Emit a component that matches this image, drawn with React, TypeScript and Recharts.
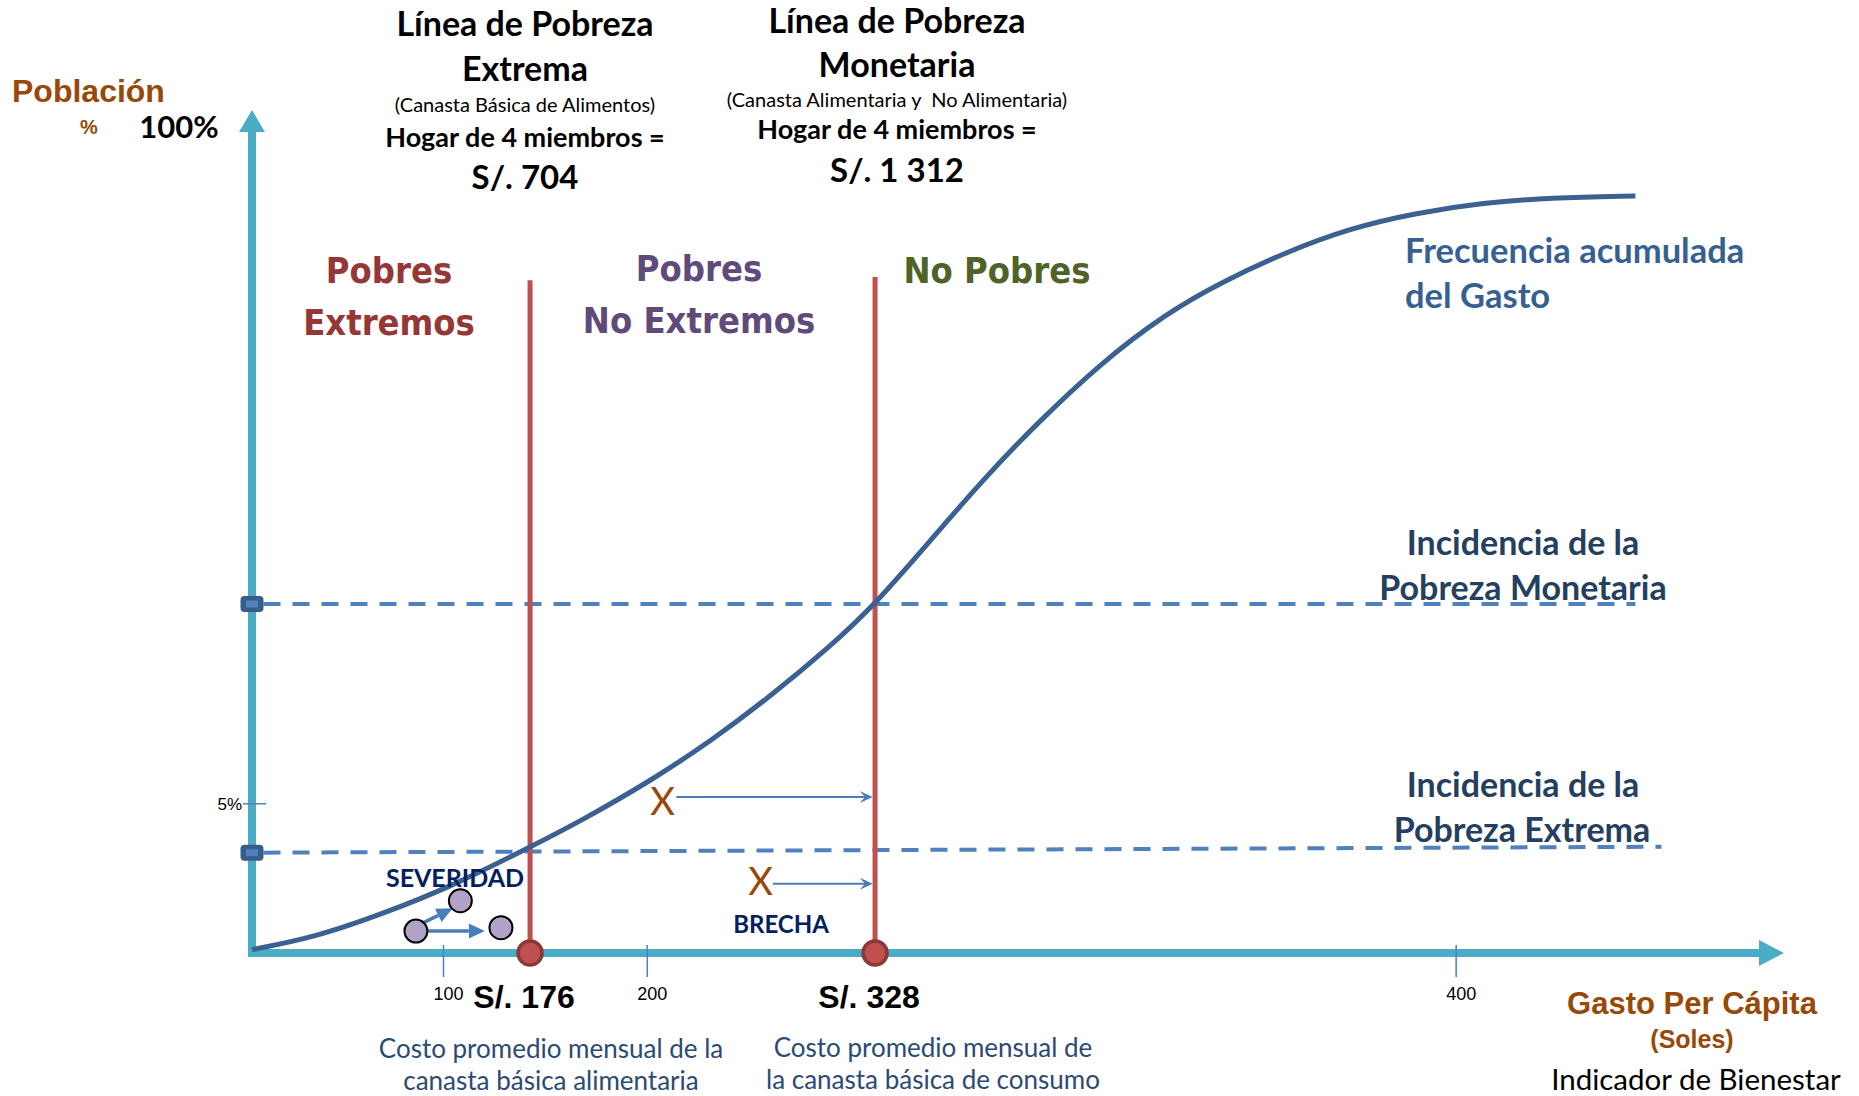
import React from 'react';
import { ComposedChart, Line, XAxis, YAxis, ReferenceLine, ReferenceDot } from 'recharts';

// Schematic units: x = position along the "Gasto per cápita" axis (0-100),
// y = position along the "Población %" axis (0-100). The original diagram is not to scale.
const curveX = [0, 4.2, 8.6, 12.9, 18.2, 21.6, 26.0, 30.0, 33.8, 37.7, 40.7, 44.5, 47.7, 51.0, 55.4, 59.7, 63.2, 67.3, 71.7, 76.0, 80.4, 84.7, 90.3];
const curveY = [0.4, 1.9, 4.7, 7.8, 12.6, 15.8, 20.4, 25.2, 30.4, 36.3, 41.4, 49.4, 56.1, 62.4, 70.0, 75.9, 79.5, 83.0, 86.0, 87.8, 89.0, 89.6, 89.8];

const xTickPositions = [12.5, 25.8, 78.6];
const xTickLabels = ['100', '200', '400'];
const yTickPositions = [17.7];
const yTickLabels = ['5%'];

const povertyLineX = [18.15, 40.67];
const povertyLineTop = [79.8, 80.2];
const povertyLineLabels = ['S/. 176', 'S/. 328'];

const incidenceStartX = [0.75, 0.75];
const incidenceEndX = [90.3, 92.0];
const incidenceStartY = [41.4, 11.9];
const incidenceEndY = [41.4, 12.6];

const severityDotX = [10.7, 13.6, 16.25];
const severityDotY = [2.6, 6.2, 3.0];
const severityArrowFrom = [[11.2, 3.6], [11.5, 2.6]];
const severityArrowTo = [[13.1, 5.3], [15.2, 2.6]];

const gapMarkX = [26.8, 33.2];
const gapMarkY = [17.9, 8.4];
const gapArrowStartX = [27.7, 34.0];
const gapArrowY = [18.5, 8.2];

const curveData = curveX.map((x, i) => ({ x, y: curveY[i] }));

const TEAL = '#4BACC6';
const CAL = "Lato, 'Open Sans', sans-serif";
const ARIAL = "'Liberation Sans', Arial, sans-serif";
const TAH = "'DejaVu Sans Condensed', 'DejaVu Sans', sans-serif";

const YAxisArrow = (p: any) => {
  const { x1, y1, y2 } = p;
  return (
    <g>
      <line x1={x1} y1={y1 + 4} x2={x1} y2={y2 + 18} stroke={TEAL} strokeWidth={8} />
      <polygon points={`${x1},${y2} ${x1 - 13},${y2 + 22} ${x1 + 13},${y2 + 22}`} fill={TEAL} />
    </g>
  );
};

const XAxisArrow = (p: any) => {
  const { x1, y1, x2 } = p;
  return (
    <g>
      <line x1={x1 - 4} y1={y1} x2={x2 - 20} y2={y1} stroke={TEAL} strokeWidth={8} />
      <polygon points={`${x2},${y1} ${x2 - 25},${y1 - 13} ${x2 - 25},${y1 + 13}`} fill={TEAL} />
    </g>
  );
};

const thinArrow = (p: any) => {
  const { x1, y1, x2, y2 } = p;
  const ang = Math.atan2(y2 - y1, x2 - x1);
  const L = 13, W = 6;
  const bx = x2 - L * Math.cos(ang), by = y2 - L * Math.sin(ang);
  const nx = -Math.sin(ang), ny = Math.cos(ang);
  const mx = x2 - L * 0.6 * Math.cos(ang), my = y2 - L * 0.6 * Math.sin(ang);
  return (
    <g>
      <line x1={x1} y1={y1} x2={mx} y2={my} stroke="#4A7EBB" strokeWidth={2} />
      <polygon points={`${x2},${y2} ${bx + nx * W},${by + ny * W} ${mx},${my} ${bx - nx * W},${by - ny * W}`} fill="#4A7EBB" />
    </g>
  );
};

const thickArrow = (p: any) => {
  const { x1, y1, x2, y2 } = p;
  const ang = Math.atan2(y2 - y1, x2 - x1);
  const L = 16, W = 7.5;
  const bx = x2 - L * Math.cos(ang), by = y2 - L * Math.sin(ang);
  const nx = -Math.sin(ang), ny = Math.cos(ang);
  return (
    <g>
      <line x1={x1} y1={y1} x2={bx} y2={by} stroke="#4A7EBB" strokeWidth={3.5} />
      <polygon points={`${x2},${y2} ${bx + nx * W},${by + ny * W} ${bx - nx * W},${by - ny * W}`} fill="#4A7EBB" />
    </g>
  );
};

const AxisSquare = (p: any) => {
  const { cx, cy } = p;
  return (
    <g>
      <rect x={cx - 11.5} y={cy - 8} width={23} height={16} rx={4} fill="#385D8A" />
      <rect x={cx - 6} y={cy - 3.5} width={12} height={7} fill="#4F81BD" />
    </g>
  );
};

const RedDot = (label: string) => (p: any) => {
  const { cx, cy } = p;
  return (
    <g>
      <circle cx={cx} cy={cy} r={12} fill="#C0504D" stroke="#8C3836" strokeWidth={3.5} />
      <text x={cx - 6} y={cy + 55} textAnchor="middle" fontFamily={ARIAL} fontWeight="bold" fontSize={32} fill="#000">{label}</text>
    </g>
  );
};

const GapX = (p: any) => {
  const { cx, cy } = p;
  return (
    <text x={cx} y={cy + 13} textAnchor="middle" fontFamily={CAL} fontSize={38} fill="#984807">X</text>
  );
};

const SevDot = (p: any) => {
  const { cx, cy } = p;
  return <circle cx={cx} cy={cy} r={11.5} fill="#B3A2C7" stroke="#000" strokeWidth={2} />;
};

const XTick = (p: any) => {
  const { x, y, payload } = p;
  const i = xTickPositions.indexOf(payload.value);
  return (
    <g>
      <line x1={x} y1={y - 8} x2={x} y2={y + 24} stroke="#4F81BD" strokeWidth={1.5} />
      <text x={x + 5} y={y + 47} textAnchor="middle" fontFamily={ARIAL} fontSize={18} fill="#000">{xTickLabels[i]}</text>
    </g>
  );
};

const YTick = (p: any) => {
  const { x, y, payload } = p;
  const i = yTickPositions.indexOf(payload.value);
  return (
    <g>
      <line x1={x - 9} y1={y} x2={x + 14} y2={y} stroke="#4F81BD" strokeWidth={1.5} />
      <text x={x - 10} y={y + 6} textAnchor="end" fontFamily={ARIAL} fontSize={17} fill="#000">{yTickLabels[i]}</text>
    </g>
  );
};

const T = ({ x, y, size, weight = 'bold', fill = '#000', family = CAL, anchor = 'middle', stretch, children }: any) => (
  <text x={x} y={y} fontSize={size} fontWeight={weight} fill={fill} fontFamily={family} textAnchor={anchor}
    style={{ whiteSpace: 'pre', fontStretch: stretch }}>{children}</text>
);

export default function App() {
  return (
    <div style={{ position: 'absolute', left: 0, top: 0, width: 1859, height: 1096, background: '#fff' }}>
      <ComposedChart width={1859} height={1096} data={curveData}
        margin={{ top: 110, right: 75, bottom: 113, left: 212 }}>
        <XAxis type="number" dataKey="x" domain={[0, 100]} ticks={xTickPositions} interval={0}
          height={30} axisLine={false} tickLine={false} tickSize={0} tickMargin={0} tick={<XTick />} />
        <YAxis type="number" domain={[0, 100]} ticks={yTickPositions} interval={0}
          width={40} axisLine={false} tickLine={false} tickSize={0} tickMargin={0} tick={<YTick />} />

        {incidenceStartX.map((sx, i) => (
          <ReferenceLine key={'inc' + i} segment={[{ x: sx, y: incidenceStartY[i] }, { x: incidenceEndX[i], y: incidenceEndY[i] }]}
            stroke="#4F81BD" strokeWidth={4} strokeDasharray="17 12" />
        ))}
        {povertyLineX.map((px, i) => (
          <ReferenceLine key={'pl' + i} segment={[{ x: px, y: 0 }, { x: px, y: povertyLineTop[i] }]}
            stroke="#C0504D" strokeWidth={5} />
        ))}

        <ReferenceLine segment={[{ x: 0, y: 0 }, { x: 0, y: 100 }]} shape={YAxisArrow} />
        <ReferenceLine segment={[{ x: 0, y: 0 }, { x: 100, y: 0 }]} shape={XAxisArrow} />

        <Line type="basis" dataKey="y" stroke="#3B6192" strokeWidth={5} dot={false} activeDot={false} isAnimationActive={false} />

        {incidenceStartY.map((y, i) => (
          <ReferenceDot key={'sq' + i} x={0} y={y} shape={AxisSquare} />
        ))}
        {povertyLineX.map((px, i) => (
          <ReferenceDot key={'rd' + i} x={px} y={0} shape={RedDot(povertyLineLabels[i])} />
        ))}
        {gapMarkX.map((gx, i) => (
          <ReferenceDot key={'gx' + i} x={gx} y={gapMarkY[i]} shape={GapX} />
        ))}
        {gapArrowStartX.map((sx, i) => (
          <ReferenceLine key={'ga' + i} segment={[{ x: sx, y: gapArrowY[i] }, { x: povertyLineX[1] - 0.15, y: gapArrowY[i] }]} shape={thinArrow} />
        ))}
        {severityArrowFrom.map((f, i) => (
          <ReferenceLine key={'sa' + i} segment={[{ x: f[0], y: f[1] }, { x: severityArrowTo[i][0], y: severityArrowTo[i][1] }]} shape={thickArrow} />
        ))}
        {severityDotX.map((sx, i) => (
          <ReferenceDot key={'sd' + i} x={sx} y={severityDotY[i]} shape={SevDot} />
        ))}
      </ComposedChart>

      <svg width={1859} height={1096} style={{ position: 'absolute', left: 0, top: 0, pointerEvents: 'none' }}>
        {/* Y axis title */}
        <T x={12} y={102} size={32} family={ARIAL} fill="#984807" anchor="start">Población</T>
        <T x={89} y={134} size={20} family={ARIAL} fill="#984807">%</T>
        <T x={179} y={138} size={31}>100%</T>

        {/* Block 1 */}
        <T x={525} y={36} size={34}>Línea de Pobreza</T>
        <T x={525} y={81} size={34}>Extrema</T>
        <T x={525} y={112} size={20} weight="normal">(Canasta Básica de Alimentos)</T>
        <T x={525} y={147} size={27}>Hogar de 4 miembros =</T>
        <T x={525} y={189} size={33}>S/. 704</T>

        {/* Block 2 */}
        <T x={897} y={33} size={34}>Línea de Pobreza</T>
        <T x={897} y={77} size={34}>Monetaria</T>
        <T x={897} y={107} size={20} weight="normal">(Canasta Alimentaria y  No Alimentaria)</T>
        <T x={897} y={139} size={27}>Hogar de 4 miembros =</T>
        <T x={897} y={182} size={33}>S/. 1 312</T>

        {/* Regions */}
        <T x={389} y={283} size={36} family={TAH} stretch="condensed" fill="#953735">Pobres</T>
        <T x={389} y={335} size={36} family={TAH} stretch="condensed" fill="#953735">Extremos</T>
        <T x={699} y={281} size={36} family={TAH} stretch="condensed" fill="#604A7B">Pobres</T>
        <T x={699} y={333} size={36} family={TAH} stretch="condensed" fill="#604A7B">No Extremos</T>
        <T x={997} y={283} size={36} family={TAH} stretch="condensed" fill="#4F6228">No Pobres</T>

        {/* Right labels */}
        <T x={1405} y={263} size={34.5} fill="#376092" anchor="start">Frecuencia acumulada</T>
        <T x={1405} y={308} size={34.5} fill="#376092" anchor="start">del Gasto</T>
        <T x={1523} y={555} size={34} fill="#243F60">Incidencia de la</T>
        <T x={1523} y={600} size={34} fill="#243F60">Pobreza Monetaria</T>
        <T x={1523} y={797} size={34} fill="#243F60">Incidencia de la</T>
        <T x={1522} y={842} size={34} fill="#243F60">Pobreza Extrema</T>

        {/* Small labels */}
        <T x={455} y={887} size={25} fill="#002060">SEVERIDAD</T>
        <T x={781} y={933} size={24} fill="#002060">BRECHA</T>

        {/* Bottom */}
        <T x={551} y={1058} size={26} weight="normal" fill="#2B4A75">Costo promedio mensual de la</T>
        <T x={551} y={1090} size={26} weight="normal" fill="#2B4A75">canasta básica alimentaria</T>
        <T x={933} y={1057} size={26} weight="normal" fill="#2B4A75">Costo promedio mensual de</T>
        <T x={933} y={1089} size={26} weight="normal" fill="#2B4A75">la canasta básica de consumo</T>

        <T x={1692} y={1014} size={31} family={ARIAL} fill="#984807">Gasto Per Cápita</T>
        <T x={1692} y={1048} size={25} family={ARIAL} fill="#984807">(Soles)</T>
        <T x={1696} y={1090} size={29.5} weight="normal">Indicador de Bienestar</T>
      </svg>
    </div>
  );
}
